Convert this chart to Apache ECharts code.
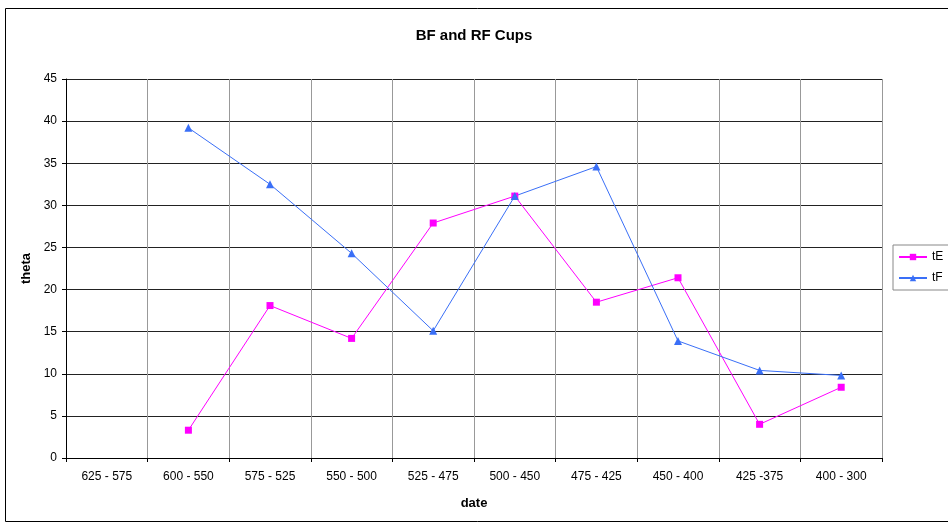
<!DOCTYPE html>
<html>
<head>
<meta charset="utf-8">
<script src="https://cdn.jsdelivr.net/npm/echarts@6/dist/echarts.min.js"></script>
<style>
body { margin: 0; background: #fff; }
#chart { width: 948px; height: 524px; }
</style>
</head>
<body>
<div id="chart"></div>
<script>
// date ranges on the x axis
var categories = ['625 - 575', '600 - 550', '575 - 525', '550 - 500', '525 - 475',
    '500 - 450', '475 - 425', '450 - 400', '425 -375', '400 - 300'];
// theta values, first range has no data
var tE = [null, 3.3, 18.1, 14.2, 27.9, 31.1, 18.5, 21.4, 4.0, 8.4];
var tF = [null, 39.2, 32.5, 24.3, 15.1, 31.1, 34.6, 13.9, 10.4, 9.8];

var chart = echarts.init(document.getElementById('chart'));
var font = 'Liberation Sans, Arial, sans-serif';
var option = {
    animation: false,
    backgroundColor: '#fff',
    textStyle: { fontFamily: font },
    title: {
        text: 'BF and RF Cups',
        left: 'center',
        top: 23,
        textStyle: { fontSize: 15, fontWeight: 'bold', color: '#000', fontFamily: font }
    },
    // outer chart border
    graphic: [{
        type: 'rect',
        shape: { x: 5.5, y: 8.5, width: 960, height: 513 },
        style: { fill: 'none', stroke: '#000', lineWidth: 1 },
        silent: true
    }],
    legend: {
        orient: 'vertical',
        left: 893,
        top: 245,
        data: ['tE', 'tF'],
        itemWidth: 28,
        itemHeight: 8,
        itemGap: 9,
        padding: [6, 6, 6, 5],
        borderColor: '#888',
        borderWidth: 1,
        textStyle: { fontSize: 12, color: '#000', fontFamily: font }
    },
    grid: { left: 66, right: 66, top: 79, bottom: 66 },
    xAxis: {
        type: 'category',
        data: categories,
        boundaryGap: true,
        name: 'date',
        nameLocation: 'middle',
        nameGap: 39,
        nameTextStyle: { fontSize: 13, fontWeight: 'bold', color: '#000', fontFamily: font },
        axisLine: { lineStyle: { color: '#000', width: 1 } },
        axisTick: { show: true, length: 4, lineStyle: { color: '#000' } },
        axisLabel: { fontSize: 12, color: '#000', margin: 13, fontFamily: font },
        splitLine: { show: true, lineStyle: { color: '#999', width: 1 } }
    },
    yAxis: {
        type: 'value',
        min: 0,
        max: 45,
        interval: 5,
        name: 'theta',
        nameLocation: 'middle',
        nameGap: 31,
        nameTextStyle: { fontSize: 13, fontWeight: 'bold', color: '#000', fontFamily: font },
        axisLine: { show: true, lineStyle: { color: '#000', width: 1 } },
        axisTick: { show: true, length: 4, lineStyle: { color: '#000' } },
        axisLabel: { fontSize: 12, color: '#000', margin: 9, fontFamily: font },
        splitLine: { show: true, lineStyle: { color: '#222', width: 1 } }
    },
    series: [
        {
            name: 'tE',
            type: 'line',
            data: tE,
            symbol: 'rect',
            symbolSize: 7,
            color: '#ff00ff',
            lineStyle: { color: '#ff00ff', width: 1 },
            itemStyle: { color: '#ff00ff' }
        },
        {
            name: 'tF',
            type: 'line',
            data: tF,
            symbol: 'triangle',
            symbolSize: 8,
            color: '#3a6ff7',
            lineStyle: { color: '#3a6ff7', width: 1 },
            itemStyle: { color: '#3a6ff7' }
        }
    ]
};
chart.setOption(option);
</script>
</body>
</html>
